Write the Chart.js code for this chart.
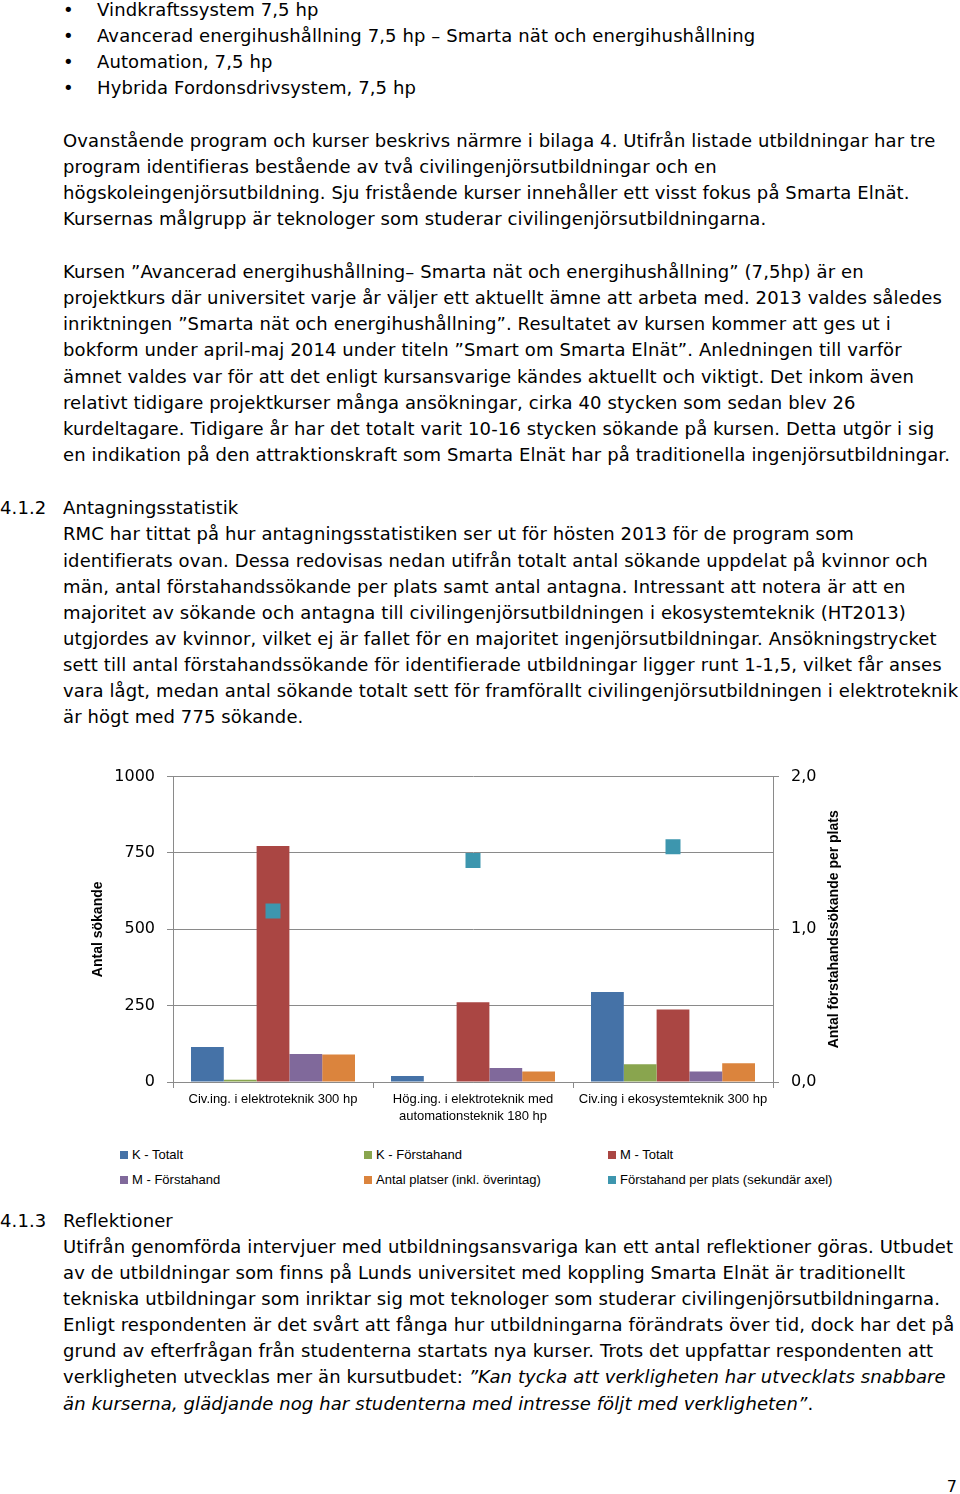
<!DOCTYPE html>
<html><head><meta charset="utf-8">
<script src="https://cdn.jsdelivr.net/npm/chart.js@4.4.1/dist/chart.umd.min.js"></script>
<style>
html,body{margin:0;padding:0;background:#fff;}
body{width:960px;height:1494px;position:relative;overflow:hidden;font-family:"DejaVu Sans",Verdana,sans-serif;font-size:18px;color:#000;}
.l{position:absolute;white-space:nowrap;line-height:26px;height:26px;letter-spacing:0.11px;}
.b{position:absolute;left:63px;font-size:18px;line-height:26px;}
#chartbox{position:absolute;left:80px;top:755px;width:780px;height:385px;}
#legend{position:absolute;left:0;top:0;width:960px;font-family:"Liberation Sans Narrow","Liberation Sans",sans-serif;font-size:13px;color:#000;}
.lg{position:absolute;white-space:nowrap;line-height:16px;}
.lg i{display:inline-block;width:8px;height:8px;margin-right:4px;vertical-align:0px;}
#pg{position:absolute;right:3px;top:1476px;font-size:16px;line-height:22px;}
</style></head><body>
<div id="text"></div>
<div id="pg">7</div>
<div id="chartbox"><canvas id="c" width="780" height="385"></canvas></div>
<div id="legend"></div>
<script>
// ---- Chart data ----
const categories = [
  "Civ.ing. i elektroteknik 300 hp",
  ["Hög.ing. i elektroteknik med", "automationsteknik 180 hp"],
  "Civ.ing i ekosystemteknik 300 hp"
];
const seriesNames = ["K - Totalt","K - Förstahand","M - Totalt","M - Förstahand","Antal platser (inkl. överintag)","Förstahand per plats (sekundär axel)"];
const kTotalt = [115, 20, 295];
const kForstahand = [7, 2, 58];
const mTotalt = [773, 261, 237];
const mForstahand = [92, 46, 34];
const antalPlatser = [90, 34, 61];
const forstahandPerPlats = [1.12, 1.45, 1.54];
const leftTicks = [0, 250, 500, 750, 1000];
const rightTicks = [0, 1, 2];
const colors = ["#4572A7","#89A54E","#AA4643","#80699B","#DB843D","#3D96AE"];

// ---- Page text ----
const lines = [
  [10,97,"Vindkraftssystem 7,5 hp",true],
  [36,97,"Avancerad energihushållning 7,5 hp – Smarta nät och energihushållning",true],
  [62,97,"Automation, 7,5 hp",true],
  [88,97,"Hybrida Fordonsdrivsystem, 7,5 hp",true],
  [141,63,"Ovanstående program och kurser beskrivs närmre i bilaga 4. Utifrån listade utbildningar har tre"],
  [167,63,"program identifieras bestående av två civilingenjörsutbildningar och en"],
  [193,63,"högskoleingenjörsutbildning. Sju fristående kurser innehåller ett visst fokus på Smarta Elnät."],
  [219,63,"Kursernas målgrupp är teknologer som studerar civilingenjörsutbildningarna."],
  [272,63,"Kursen ”Avancerad energihushållning– Smarta nät och energihushållning” (7,5hp) är en"],
  [298,63,"projektkurs där universitet varje år väljer ett aktuellt ämne att arbeta med. 2013 valdes således"],
  [324,63,"inriktningen ”Smarta nät och energihushållning”. Resultatet av kursen kommer att ges ut i"],
  [350,63,"bokform under april-maj 2014 under titeln ”Smart om Smarta Elnät”. Anledningen till varför"],
  [377,63,"ämnet valdes var för att det enligt kursansvarige kändes aktuellt och viktigt. Det inkom även"],
  [403,63,"relativt tidigare projektkurser många ansökningar, cirka 40 stycken som sedan blev 26"],
  [429,63,"kurdeltagare. Tidigare år har det totalt varit 10-16 stycken sökande på kursen. Detta utgör i sig"],
  [455,63,"en indikation på den attraktionskraft som Smarta Elnät har på traditionella ingenjörsutbildningar."],
  [508,0,"4.1.2"],
  [508,63,"Antagningsstatistik"],
  [534,63,"RMC har tittat på hur antagningsstatistiken ser ut för hösten 2013 för de program som"],
  [561,63,"identifierats ovan. Dessa redovisas nedan utifrån totalt antal sökande uppdelat på kvinnor och"],
  [587,63,"män, antal förstahandssökande per plats samt antal antagna. Intressant att notera är att en"],
  [613,63,"majoritet av sökande och antagna till civilingenjörsutbildningen i ekosystemteknik (HT2013)"],
  [639,63,"utgjordes av kvinnor, vilket ej är fallet för en majoritet ingenjörsutbildningar. Ansökningstrycket"],
  [665,63,"sett till antal förstahandssökande för identifierade utbildningar ligger runt 1-1,5, vilket får anses"],
  [691,63,"vara lågt, medan antal sökande totalt sett för framförallt civilingenjörsutbildningen i elektroteknik"],
  [717,63,"är högt med 775 sökande."],
  [1221,0,"4.1.3"],
  [1221,63,"Reflektioner"],
  [1247,63,"Utifrån genomförda intervjuer med utbildningsansvariga kan ett antal reflektioner göras. Utbudet"],
  [1273,63,"av de utbildningar som finns på Lunds universitet med koppling Smarta Elnät är traditionellt"],
  [1299,63,"tekniska utbildningar som inriktar sig mot teknologer som studerar civilingenjörsutbildningarna."],
  [1325,63,"Enligt respondenten är det svårt att fånga hur utbildningarna förändrats över tid, dock har det på"],
  [1351,63,"grund av efterfrågan från studenterna startats nya kurser. Trots det uppfattar respondenten att"],
  [1377,63,"verkligheten utvecklas mer än kursutbudet: <i>”Kan tycka att verkligheten har utvecklats snabbare</i>"],
  [1404,63,"<i>än kurserna, glädjande nog har studenterna med intresse följt med verkligheten”</i>."]
];
const tdiv = document.getElementById('text');
lines.forEach(([y,x,s,bullet])=>{
  const d=document.createElement('div');d.className='l';
  d.style.top=(y-13)+'px';d.style.left=x+'px';d.innerHTML=s;tdiv.appendChild(d);
  if(bullet){const b=document.createElement('div');b.className='b';b.style.top=(y-13)+'px';b.textContent='•';tdiv.appendChild(b);}
});

// ---- Chart ----
const gridColor = "#8a8a8a";
const axisTitles = {
  id:'axisTitles',
  afterDraw(chart){
    const ctx=chart.ctx, a=chart.chartArea;
    const cy=(a.top+a.bottom)/2;
    [[18,'Antal sökande'],[754,'Antal förstahandssökande per plats']].forEach(([x,t])=>{
      ctx.save();
      ctx.fillStyle='#000';
      ctx.font='bold 14px "Liberation Sans Narrow","Liberation Sans",sans-serif';
      ctx.textAlign='center';ctx.textBaseline='middle';
      ctx.translate(x,cy);ctx.rotate(-Math.PI/2);ctx.fillText(t,0,0);
      ctx.restore();
    });
  }
};
const barData=[kTotalt,kForstahand,mTotalt,mForstahand,antalPlatser];
const datasets = barData.map((d,i)=>({type:'bar',label:seriesNames[i],data:d,backgroundColor:colors[i],yAxisID:'y',order:2,categoryPercentage:0.82,barPercentage:1.0,borderWidth:0}));
datasets.push({type:'line',label:seriesNames[5],data:forstahandPerPlats,yAxisID:'y1',showLine:false,pointStyle:'rect',pointRadius:10.6,pointBackgroundColor:colors[5],pointBorderWidth:0,order:1});

const fmt = v=>v.toFixed(1).replace('.',',');
new Chart(document.getElementById('c'),{
  data:{labels:categories,datasets},
  options:{
    responsive:false,animation:false,
    layout:{padding:{top:11,left:0,right:0,bottom:0}},
    plugins:{legend:{display:false},tooltip:{enabled:false}},
    scales:{
      x:{
        grid:{display:true,drawOnChartArea:false,offset:true,tickLength:6,color:gridColor},
        border:{display:true,color:gridColor},
        ticks:{color:'#000',font:{family:'"Liberation Sans Narrow","Liberation Sans",sans-serif',size:13,lineHeight:1.3},maxRotation:0,autoSkip:false,padding:3},
        afterFit(s){s.height=58;}
      },
      y:{
        position:'left',min:0,max:1000,
        afterBuildTicks(s){s.ticks=leftTicks.map(v=>({value:v}));},
        grid:{color:gridColor,tickLength:6},
        border:{display:true,color:gridColor},
        ticks:{color:'#000',font:{family:'"DejaVu Sans",sans-serif',size:16},padding:12,callback:v=>String(v)},
        afterFit(s){s.width=93;}
      },
      y1:{
        position:'right',min:0,max:2,
        afterBuildTicks(s){s.ticks=rightTicks.map(v=>({value:v}));},
        grid:{drawOnChartArea:false,color:gridColor,tickLength:6},
        border:{display:true,color:gridColor},
        ticks:{color:'#000',font:{family:'"DejaVu Sans",sans-serif',size:16},padding:12,callback:v=>fmt(v)},
        afterFit(s){s.width=87;}
      }
    }
  },
  plugins:[axisTitles]
});

// ---- HTML legend ----
const lg=document.getElementById('legend');
const lpos=[[120,1155],[364,1155],[608,1155],[120,1180],[364,1180],[608,1180]];
seriesNames.forEach((n,i)=>{
  const d=document.createElement('div');d.className='lg';
  d.style.left=lpos[i][0]+'px';d.style.top=(lpos[i][1]-8)+'px';
  d.innerHTML='<i style="background:'+colors[i]+'"></i>'+n;lg.appendChild(d);
});
</script>
</body></html>
